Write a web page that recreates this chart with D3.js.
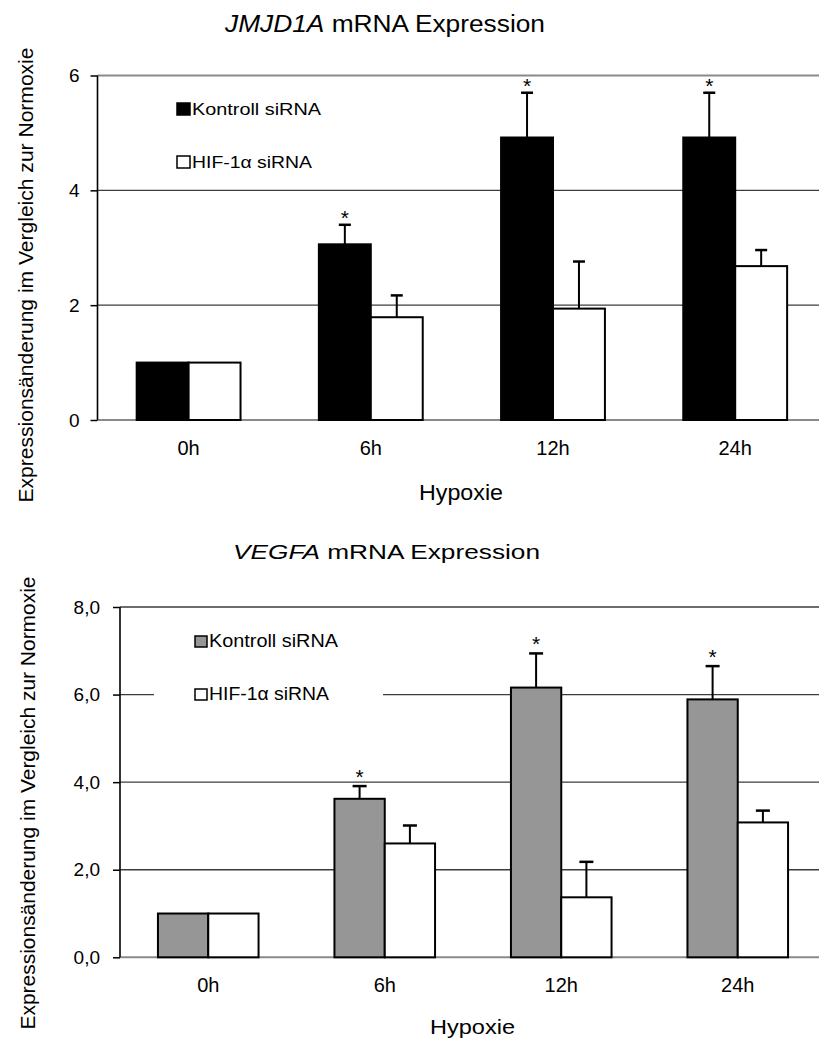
<!DOCTYPE html>
<html>
<head>
<meta charset="utf-8">
<script src="https://cdn.jsdelivr.net/npm/d3@7"></script>
<style>
  body{margin:0;background:#fff;}
  text{font-family:"Liberation Sans",Arial,sans-serif;fill:#000;}
</style>
</head>
<body>
<svg id="fig" width="819" height="1041"></svg>
<script>
// shared categories / legend
var categories = ['0h','6h','12h','24h'];
var seriesNames = ['Kontroll siRNA','HIF-1α siRNA'];

// JMJD1A (top)
var jmjdKontroll    = [1.0, 3.06, 4.92, 4.92];
var jmjdKontrollErr = [0,   0.34, 0.78, 0.78];
var jmjdHif         = [1.0, 1.79, 1.94, 2.68];
var jmjdHifErr      = [0,   0.38, 0.82, 0.28];
var jmjdSig         = [false, true, true, true];
var jmjdTicks       = [0, 2, 4, 6];
var jmjdTickLabels  = ['0','2','4','6'];

// VEGFA (bottom)
var vegfKontroll    = [1.0, 3.62, 6.16, 5.89];
var vegfKontrollErr = [0,   0.29, 0.78, 0.76];
var vegfHif         = [1.0, 2.60, 1.37, 3.08];
var vegfHifErr      = [0,   0.41, 0.81, 0.27];
var vegfSig         = [false, true, true, true];
var vegfTicks       = [0, 2, 4, 6, 8];
var vegfTickLabels  = ['0,0','2,0','4,0','6,0','8,0'];

var yLabel = 'Expressionsänderung im Vergleich zur Normoxie';
var xLabel = 'Hypoxie';

var svg = d3.select('#fig');
svg.append('rect').attr('width',819).attr('height',1041).attr('fill','#fff');

function drawChart(c){
  var g = svg.append('g');

  var x = d3.scaleBand().domain(categories)
    .range([c.x0, c.x1]).paddingInner(0.43).paddingOuter(0.215);
  var xs = d3.scaleBand().domain(['k','h']).range([0, x.bandwidth()]);
  var y = d3.scaleLinear().domain([0, c.ticks[c.ticks.length-1]]).range([c.yBottom, c.yTop]);

  // title
  var t = g.append('text')
    .attr('x', c.titleX).attr('y', c.titleY)
    .attr('textLength', c.titleLen).attr('lengthAdjust','spacingAndGlyphs')
    .style('font-size', c.titleSize + 'px');
  t.append('tspan').style('font-style','italic').text(c.gene);
  t.append('tspan').text(' mRNA Expression');

  // gridlines
  g.selectAll('.grid')
    .data(c.ticks.filter(function(d){ return d > 0; }))
    .enter().append('line')
    .attr('x1', c.x0).attr('x2', 819)
    .attr('y1', function(d){ return y(d); })
    .attr('y2', function(d){ return y(d); })
    .attr('stroke', function(d){ return d == c.grayTop ? '#8a8a8a' : '#3c3c3c'; })
    .attr('stroke-width', function(d){ return d == c.grayTop ? 2 : 1.4; });

  // legend (white box behind hides gridline)
  if(c.legendBox){
    g.append('rect')
      .attr('x', c.legendBox[0]).attr('y', c.legendBox[1])
      .attr('width', c.legendBox[2]).attr('height', c.legendBox[3])
      .attr('fill','#fff');
  }
  var fills = [c.ctrlFill, '#fff'];
  [c.legY1, c.legY2].forEach(function(ly, i){
    g.append('rect')
      .attr('x', c.legX).attr('y', ly - c.sq + 1)
      .attr('width', c.sq).attr('height', c.sq - 1)
      .attr('fill', fills[i]).attr('stroke','#000').attr('stroke-width',1.5);
    g.append('text')
      .attr('x', c.legX + c.sq + 2).attr('y', ly)
      .attr('textLength', c.legLen[i]).attr('lengthAdjust','spacingAndGlyphs')
      .style('font-size', c.legSize + 'px')
      .text(seriesNames[i]);
  });

  // baseline
  g.append('line')
    .attr('x1', c.x0).attr('x2', 819)
    .attr('y1', y(0)).attr('y2', y(0))
    .attr('stroke','#8a8a8a').attr('stroke-width',2);

  var rows = [];
  categories.forEach(function(cat, i){
    rows.push({cat:cat, key:'k', v:c.kontroll[i], e:c.kontrollErr[i], sig:c.sig[i], fill:c.ctrlFill});
    rows.push({cat:cat, key:'h', v:c.hif[i], e:c.hifErr[i], sig:false, fill:'#fff'});
  });

  // bars
  g.selectAll('.bar')
    .data(rows).enter().append('rect')
    .attr('x', function(d){ return x(d.cat) + xs(d.key); })
    .attr('y', function(d){ return y(d.v); })
    .attr('width', xs.bandwidth())
    .attr('height', function(d){ return y(0) - y(d.v); })
    .attr('fill', function(d){ return d.fill; })
    .attr('stroke','#000').attr('stroke-width',2);

  // error bars (upper only)
  var errs = rows.filter(function(d){ return d.e > 0; });
  var cx = function(d){ return x(d.cat) + xs(d.key) + xs.bandwidth()/2; };
  g.selectAll('.err')
    .data(errs).enter().append('line')
    .attr('x1', cx).attr('x2', cx)
    .attr('y1', function(d){ return y(d.v); })
    .attr('y2', function(d){ return y(d.v + d.e); })
    .attr('stroke','#000').attr('stroke-width',2);
  g.selectAll('.cap')
    .data(errs).enter().append('line')
    .attr('x1', function(d){ return cx(d) - c.cap/2; })
    .attr('x2', function(d){ return cx(d) + c.cap/2; })
    .attr('y1', function(d){ return y(d.v + d.e); })
    .attr('y2', function(d){ return y(d.v + d.e); })
    .attr('stroke','#000').attr('stroke-width',2.5);

  // significance stars
  g.selectAll('.star')
    .data(rows.filter(function(d){ return d.sig; })).enter().append('text')
    .attr('x', cx)
    .attr('y', function(d){ return y(d.v + d.e) - c.starGap; })
    .attr('text-anchor','middle')
    .style('font-size','21px')
    .text('*');

  // y axis
  var ax = g.append('g')
    .attr('transform','translate(' + c.x0 + ',0)')
    .call(d3.axisLeft(y).tickValues(c.ticks)
      .tickFormat(function(d, i){ return c.tickLabels[i]; })
      .tickSize(7).tickPadding(c.tickPad));
  ax.select('.domain').remove();
  ax.selectAll('line').attr('stroke','#000').attr('stroke-width',1.5);
  ax.selectAll('text')
    .style('font-size','19px')
    .style('font-family','"Liberation Sans",Arial,sans-serif')
    .attr('fill','#000');
  g.append('line')
    .attr('x1', c.x0).attr('x2', c.x0)
    .attr('y1', c.yTop).attr('y2', c.yBottom)
    .attr('stroke','#000').attr('stroke-width',1.6);

  // category labels
  g.selectAll('.cat')
    .data(categories).enter().append('text')
    .attr('x', function(d){ return x(d) + x.bandwidth()/2; })
    .attr('y', c.yBottom + 35)
    .attr('text-anchor','middle')
    .style('font-size','20px')
    .text(function(d){ return d; });

  // axis titles
  g.append('text')
    .attr('x', c.hypX).attr('y', c.hypY)
    .attr('textLength', c.hypLen).attr('lengthAdjust','spacingAndGlyphs')
    .style('font-size', c.hypSize + 'px')
    .text(xLabel);

  g.append('text')
    .attr('transform','translate(' + c.ylX + ',' + c.ylY + ') rotate(-90)')
    .attr('text-anchor','middle')
    .attr('textLength', c.ylLen).attr('lengthAdjust','spacingAndGlyphs')
    .style('font-size', c.ylSize + 'px')
    .text(yLabel);
}

drawChart({
  gene:'JMJD1A', titleX:225, titleY:32, titleLen:320, titleSize:23,
  x0:97.5, x1:826.3, yTop:75.5, yBottom:420,
  ticks:jmjdTicks, tickLabels:jmjdTickLabels, tickPad:11, grayTop:6,
  kontroll:jmjdKontroll, kontrollErr:jmjdKontrollErr,
  hif:jmjdHif, hifErr:jmjdHifErr, sig:jmjdSig, ctrlFill:'#000',
  legX:177, legY1:115, legY2:168, sq:13, legLen:[129,120], legSize:17, legendBox:null,
  cap:12, starGap:0,
  hypX:419, hypY:500, hypLen:84, hypSize:22,
  ylX:33, ylY:275, ylLen:455, ylSize:21
});

drawChart({
  gene:'VEGFA', titleX:233, titleY:559, titleLen:307, titleSize:21,
  x0:120, x1:826, yTop:607, yBottom:957.3,
  ticks:vegfTicks, tickLabels:vegfTickLabels, tickPad:13, grayTop:null,
  kontroll:vegfKontroll, kontrollErr:vegfKontrollErr,
  hif:vegfHif, hifErr:vegfHifErr, sig:vegfSig, ctrlFill:'#969696',
  legX:195, legY1:647, legY2:700, sq:12, legLen:[129,120], legSize:18, legendBox:[154,618,229,96],
  cap:14, starGap:2,
  hypX:430, hypY:1034, hypLen:85, hypSize:20,
  ylX:35, ylY:803, ylLen:453, ylSize:21
});
</script>
</body>
</html>
